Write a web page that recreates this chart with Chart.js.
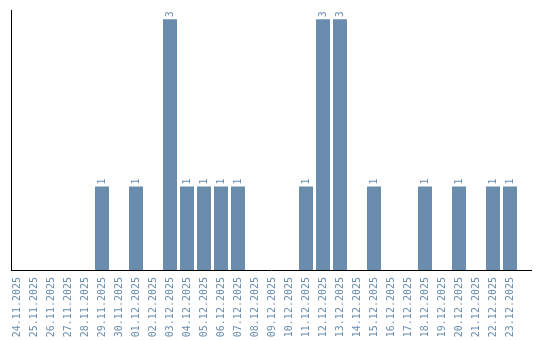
<!DOCTYPE html>
<html>
<head>
<meta charset="utf-8">
<script src="https://cdn.jsdelivr.net/npm/chart.js@4/dist/chart.umd.min.js"></script>
<style>
html,body{margin:0;padding:0;background:#fff;}
#wrap{width:540px;height:340px;position:relative;}
</style>
</head>
<body>
<div id="wrap"><canvas id="c" width="540" height="340"></canvas></div>
<script>
const dates = ["24.11.2025","25.11.2025","26.11.2025","27.11.2025","28.11.2025","29.11.2025","30.11.2025","01.12.2025","02.12.2025","03.12.2025","04.12.2025","05.12.2025","06.12.2025","07.12.2025","08.12.2025","09.12.2025","10.12.2025","11.12.2025","12.12.2025","13.12.2025","14.12.2025","15.12.2025","16.12.2025","17.12.2025","18.12.2025","19.12.2025","20.12.2025","21.12.2025","22.12.2025","23.12.2025"];
const counts = [0,0,0,0,0,1,0,1,0,3,1,1,1,1,0,0,0,1,3,3,0,1,0,0,1,0,1,0,1,1];

const barColor = '#6a8cad';
const textColor = '#6a8cad';
const monoFont = "'DejaVu Sans Mono', 'Liberation Mono', monospace";

const valueLabels = {
  id: 'valueLabels',
  afterDatasetsDraw(chart) {
    const ctx = chart.ctx;
    const meta = chart.getDatasetMeta(0);
    ctx.save();
    ctx.fillStyle = textColor;
    ctx.font = "10px " + monoFont;
    ctx.textAlign = 'left';
    ctx.textBaseline = 'middle';
    meta.data.forEach((bar, i) => {
      const v = counts[i];
      if (!v) return;
      ctx.save();
      ctx.translate(bar.x, bar.y - 2);
      ctx.rotate(-Math.PI / 2);
      ctx.fillText(String(v), 0, 0);
      ctx.restore();
    });
    ctx.restore();
  }
};

const chart = new Chart(document.getElementById('c'), {
  type: 'bar',
  data: {
    datasets: [{
      data: counts.map((v, i) => ({x: i, y: v})),
      backgroundColor: barColor,
      borderWidth: 0,
      categoryPercentage: 0.8235,
      barPercentage: 1.0
    }]
  },
  options: {
    responsive: false,
    animation: false,
    layout: {padding: {left: 11, right: 9, top: 10, bottom: 0}},
    plugins: {legend: {display: false}, tooltip: {enabled: false}},
    scales: {
      x: {
        type: 'linear',
        offset: false,
        min: -0.353,
        max: 30.235,
        grid: {display: false, drawTicks: false},
        border: {display: true, color: '#000', width: 1},
        afterFit(scale) { scale.height = 70; scale.paddingLeft = 0; scale.paddingRight = 0; },
        ticks: {
          stepSize: 1,
          includeBounds: false,
          autoSkip: false,
          maxRotation: 90,
          minRotation: 90,
          padding: 7,
          color: textColor,
          font: {family: monoFont, size: 10},
          callback: (v) => dates[v] !== undefined ? dates[v] : ''
        }
      },
      y: {
        min: 0,
        max: 3.11,
        grid: {display: false, drawTicks: false},
        border: {display: true, color: '#000', width: 1},
        ticks: {display: false},
        afterFit(scale) { scale.width = 0; }
      }
    }
  },
  plugins: [valueLabels]
});
</script>
</body>
</html>
